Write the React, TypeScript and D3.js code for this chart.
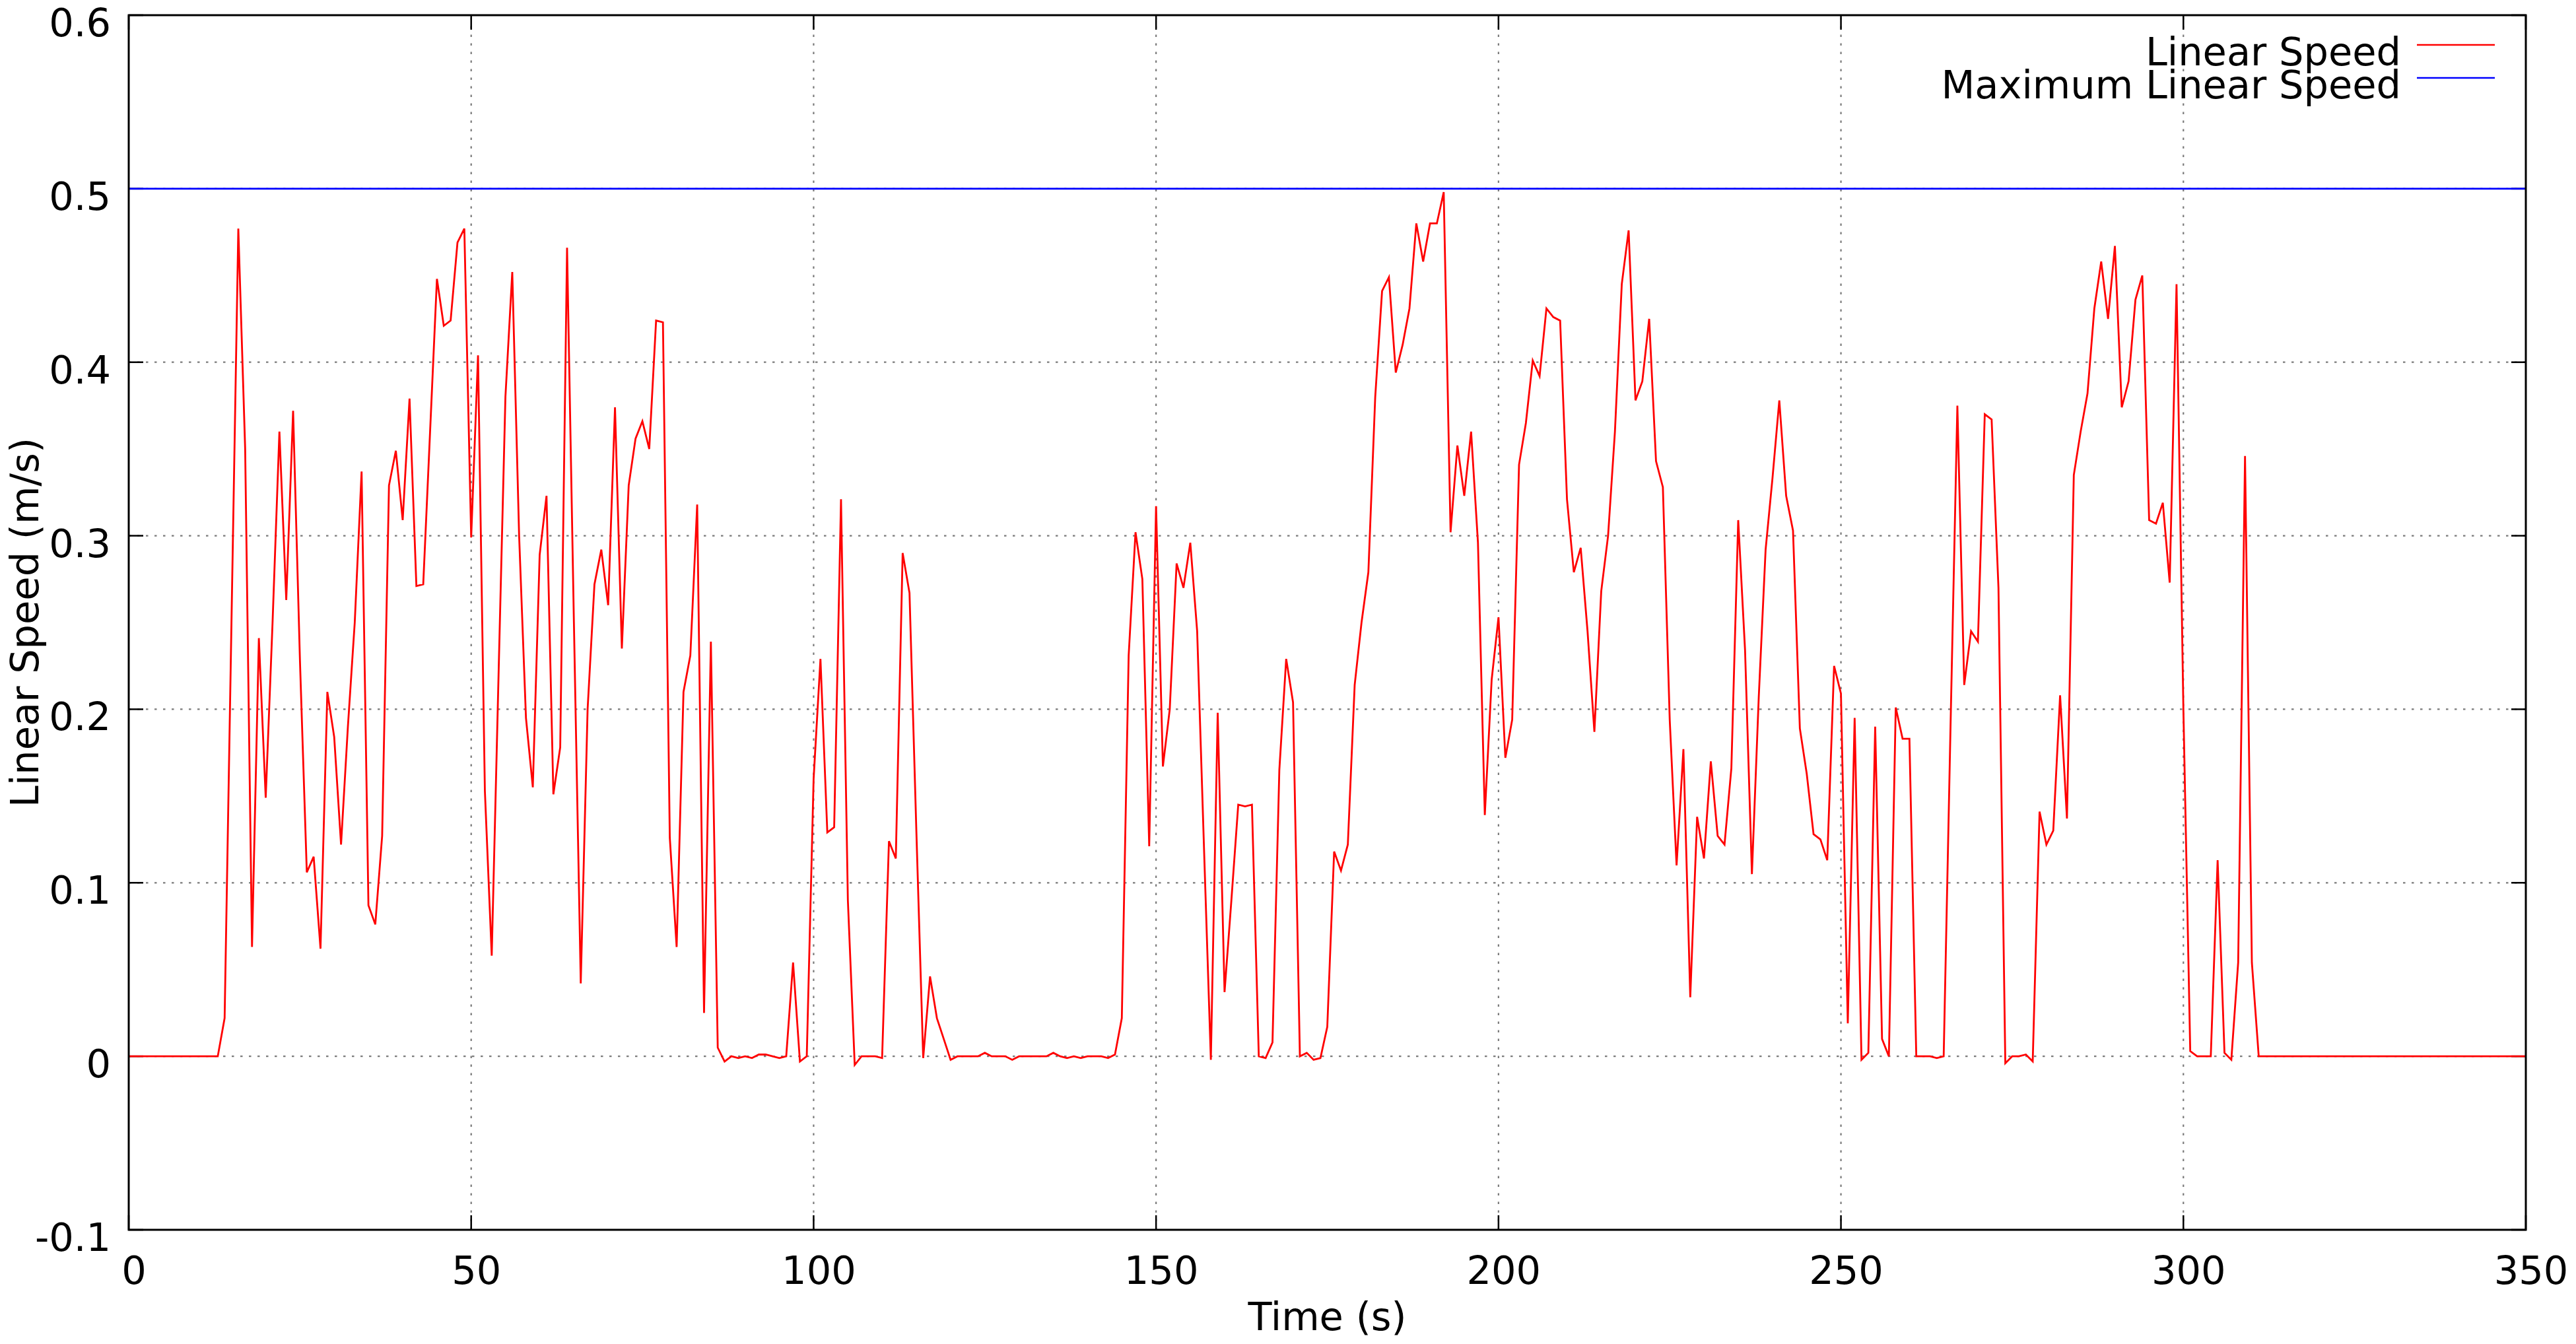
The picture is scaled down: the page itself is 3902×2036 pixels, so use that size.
import * as d3 from 'd3'

// Linear speed (m/s), one sample per second starting at t = 0 s
const SAMPLE_STEP = 1
const speeds = [
  0, 0, 0, 0, 0, 0, 0, 0, 0, 0, // 0
  0, 0, 0, 0, 0.022, 0.25, 0.477, 0.35, 0.063, 0.241, // 10
  0.149, 0.25, 0.36, 0.263, 0.372, 0.228, 0.106, 0.115, 0.062, 0.21, // 20
  0.184, 0.122, 0.19, 0.25, 0.337, 0.087, 0.076, 0.127, 0.329, 0.349, // 30
  0.309, 0.379, 0.271, 0.272, 0.36, 0.448, 0.421, 0.424, 0.469, 0.477, // 40
  0.299, 0.404, 0.153, 0.058, 0.22, 0.38, 0.452, 0.3, 0.195, 0.155, // 50
  0.289, 0.323, 0.151, 0.178, 0.466, 0.25, 0.042, 0.2, 0.272, 0.292, // 60
  0.26, 0.374, 0.235, 0.329, 0.356, 0.366, 0.35, 0.424, 0.423, 0.126, // 70
  0.063, 0.21, 0.231, 0.318, 0.025, 0.239, 0.005, -0.003, 0, -0.001, // 80
  0, -0.001, 0.001, 0.001, 0, -0.001, 0, 0.054, -0.003, 0, // 90
  0.16, 0.229, 0.129, 0.132, 0.321, 0.09, -0.005, 0, 0, 0, // 100
  -0.001, 0.124, 0.114, 0.29, 0.267, 0.13, -0.001, 0.046, 0.022, 0.01, // 110
  -0.002, 0, 0, 0, 0, 0.002, 0, 0, 0, -0.002, // 120
  0, 0, 0, 0, 0, 0.002, 0, -0.001, 0, -0.001, // 130
  0, 0, 0, -0.001, 0.001, 0.022, 0.231, 0.302, 0.275, 0.121, // 140
  0.317, 0.167, 0.2, 0.284, 0.27, 0.296, 0.245, 0.12, -0.002, 0.198, // 150
  0.037, 0.09, 0.145, 0.144, 0.145, 0, -0.001, 0.008, 0.165, 0.229, // 160
  0.204, 0, 0.002, -0.002, -0.001, 0.017, 0.118, 0.107, 0.122, 0.214, // 170
  0.25, 0.279, 0.38, 0.441, 0.449, 0.394, 0.41, 0.431, 0.48, 0.458, // 180
  0.48, 0.48, 0.498, 0.302, 0.352, 0.323, 0.36, 0.296, 0.139, 0.217, // 190
  0.253, 0.172, 0.194, 0.341, 0.365, 0.401, 0.392, 0.431, 0.426, 0.424, // 200
  0.321, 0.279, 0.293, 0.245, 0.187, 0.268, 0.3, 0.36, 0.445, 0.476, // 210
  0.378, 0.389, 0.425, 0.343, 0.328, 0.194, 0.11, 0.177, 0.034, 0.138, // 220
  0.114, 0.17, 0.127, 0.122, 0.166, 0.309, 0.234, 0.105, 0.207, 0.292, // 230
  0.333, 0.378, 0.323, 0.303, 0.189, 0.163, 0.128, 0.125, 0.113, 0.225, // 240
  0.209, 0.019, 0.195, -0.002, 0.002, 0.19, 0.01, 0, 0.201, 0.183, // 250
  0.183, 0, 0, 0, -0.001, 0, 0.19, 0.375, 0.214, 0.245, // 260
  0.239, 0.37, 0.367, 0.27, -0.004, 0, 0, 0.001, -0.003, 0.141, // 270
  0.122, 0.13, 0.208, 0.137, 0.335, 0.36, 0.382, 0.431, 0.458, 0.425, // 280
  0.467, 0.374, 0.389, 0.436, 0.45, 0.309, 0.307, 0.319, 0.273, 0.445, // 290
  0.2, 0.003, 0, 0, 0, 0.113, 0.002, -0.002, 0.054, 0.346, // 300
  0.054, 0, 0, 0, 0, 0, 0, 0, 0, 0, // 310
  0, 0, 0, 0, 0, 0, 0, 0, 0, 0, // 320
  0, 0, 0, 0, 0, 0, 0, 0, 0, 0, // 330
  0, 0, 0, 0, 0, 0, 0, 0, 0, 0, // 340
  0, // 350
]

const MAX_LINEAR_SPEED = 0.5

const xTicks = [0, 50, 100, 150, 200, 250, 300, 350]
const yTicks = [-0.1, 0, 0.1, 0.2, 0.3, 0.4, 0.5, 0.6]
const yTickLabels = ['-0.1', '0', '0.1', '0.2', '0.3', '0.4', '0.5', '0.6']
const legendLabels = ['Linear Speed', 'Maximum Linear Speed']
const legendColors = ['#ff0000', '#0000ff']

const W = 3902
const H = 2036
const MARGIN = { top: 23, right: 76, bottom: 173, left: 195 }
const FONT = "'DejaVu Sans', sans-serif"
const FS = 59
const TICK = 22

export default function App() {
  const x = d3.scaleLinear().domain([0, 350]).range([MARGIN.left, W - MARGIN.right])
  const y = d3.scaleLinear().domain([-0.1, 0.6]).range([H - MARGIN.bottom, MARGIN.top])
  const [x0, x1] = x.range()
  const [y0, y1] = y.range()

  const line = d3.line<number>()
    .x((_d, i) => x(i * SAMPLE_STEP))
    .y(d => y(d))

  return (
    <svg
      width={W}
      height={H}
      viewBox={`0 0 ${W} ${H}`}
      style={{ position: 'absolute', left: 0, top: 0, background: '#fff' }}
      fontFamily={FONT}
    >
      <rect x={0} y={0} width={W} height={H} fill="#fff" />

      {/* grid */}
      <g stroke="#7a7a7a" strokeWidth={2.2} strokeDasharray="3.5 9.5">
        {xTicks.slice(1, -1).map(t => (
          <line key={'gx' + t} x1={x(t)} x2={x(t)} y1={y0} y2={y1} />
        ))}
        {yTicks.slice(1, -1).map(t => (
          <line key={'gy' + t} x1={x0} x2={x1} y1={y(t)} y2={y(t)} />
        ))}
      </g>

      {/* ticks, mirrored on all sides */}
      <g stroke="#000" strokeWidth={2.5}>
        {yTicks.map(t => (
          <g key={'ty' + t}>
            <line x1={x0} x2={x0 + TICK} y1={y(t)} y2={y(t)} />
            <line x1={x1} x2={x1 - TICK} y1={y(t)} y2={y(t)} />
          </g>
        ))}
        {xTicks.map(t => (
          <g key={'tx' + t}>
            <line x1={x(t)} x2={x(t)} y1={y0} y2={y0 - TICK} />
            <line x1={x(t)} x2={x(t)} y1={y1} y2={y1 + TICK} />
          </g>
        ))}
      </g>

      {/* max speed */}
      <line x1={x0} x2={x1} y1={y(MAX_LINEAR_SPEED)} y2={y(MAX_LINEAR_SPEED)} stroke="#0000ff" strokeWidth={2.6} />

      {/* speed */}
      <path d={line(speeds) ?? ''} fill="none" stroke="#ff0000" strokeWidth={2.8} strokeLinejoin="miter" />

      {/* frame */}
      <rect x={x0} y={y1} width={x1 - x0} height={y0 - y1} fill="none" stroke="#000" strokeWidth={3} />

      {/* tick labels */}
      <g fontSize={FS} fill="#000">
        {yTicks.map((t, i) => (
          <text key={'ly' + t} x={168} y={y(t) + 32} textAnchor="end">{yTickLabels[i]}</text>
        ))}
        {xTicks.map(t => (
          <text key={'lx' + t} x={x(t) + 8} y={1945} textAnchor="middle">{t}</text>
        ))}
      </g>

      {/* axis titles */}
      <text x={(x0 + x1) / 2} y={2015} fontSize={FS} textAnchor="middle">Time (s)</text>
      <text
        transform={`translate(58, ${(y0 + y1) / 2}) rotate(-90)`}
        fontSize={FS}
        textAnchor="middle"
      >
        Linear Speed (m/s)
      </text>

      {/* legend */}
      <g fontSize={FS}>
        {legendLabels.map((l, i) => (
          <g key={l}>
            <text x={3637} y={99 + i * 50} textAnchor="end">{l}</text>
            <line x1={3661} x2={3779} y1={68 + i * 50} y2={68 + i * 50} stroke={legendColors[i]} strokeWidth={2.6} />
          </g>
        ))}
      </g>
    </svg>
  )
}
